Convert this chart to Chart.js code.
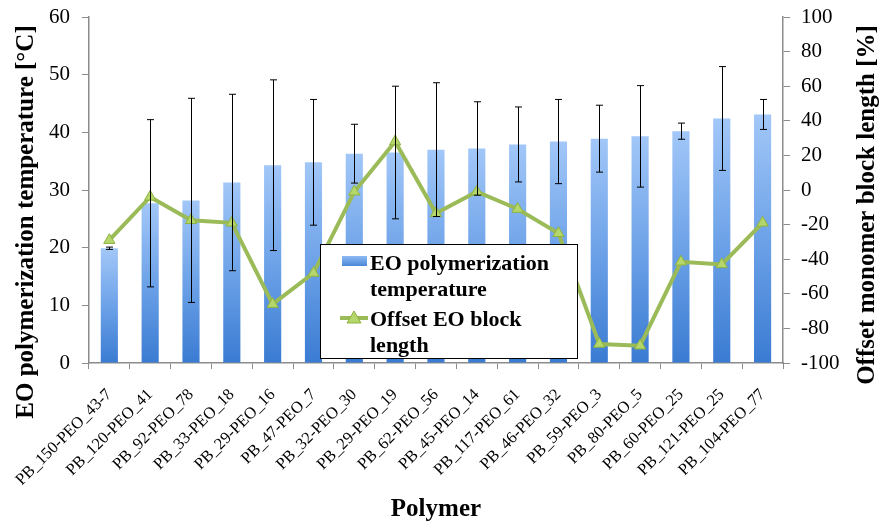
<!DOCTYPE html>
<html>
<head>
<meta charset="utf-8">
<script src="https://cdn.jsdelivr.net/npm/chart.js@4.4.0/dist/chart.umd.min.js"></script>
<style>
  html, body { margin: 0; padding: 0; background: #ffffff; }
  #wrap { width: 881px; height: 529px; position: relative; }
</style>
</head>
<body>
<div id="wrap"><canvas id="chart" width="881" height="529"></canvas></div>
<script>
// Polymers, ordered by EO polymerization temperature
const categories = [
  'PB_150-PEO_43-7', 'PB_120-PEO_41', 'PB_92-PEO_78', 'PB_33-PEO_18',
  'PB_29-PEO_16', 'PB_47-PEO_7', 'PB_32-PEO_30', 'PB_29-PEO_19',
  'PB_62-PEO_56', 'PB_45-PEO_14', 'PB_117-PEO_61', 'PB_46-PEO_32',
  'PB_59-PEO_3', 'PB_80-PEO_5', 'PB_60-PEO_25', 'PB_121-PEO_25', 'PB_104-PEO_77'
];

// EO polymerization temperature [°C] and its spread
const temperature = [19.9, 27.7, 28.2, 31.3, 34.3, 34.8, 36.3, 36.5, 37.0, 37.2, 37.9, 38.4, 38.9, 39.3, 40.2, 42.4, 43.1];
const temperatureError = [0.2, 14.5, 17.7, 15.3, 14.8, 10.9, 5.1, 11.5, 11.6, 8.1, 6.5, 7.3, 5.8, 8.8, 1.4, 9.0, 2.6];

// Offset of the EO block length [%]
const offsetLength = [-29, -4, -17.5, -19, -66, -48, -1, 28, -13.5, -1, -11, -25, -89, -90, -41.5, -43, -19];

// Axis ranges and tick steps
const tempAxis = { min: 0, max: 60, step: 10 };
const offsetAxis = { min: -100, max: 100, step: 20 };

const SERIF = '"Liberation Serif", "DejaVu Serif", serif';
const AXIS_GREY = '#8c8c8c';

function barGradient(context) {
  const chart = context.chart;
  if (!chart.chartArea) return '#6fa3e6';
  const yScale = chart.scales.y;
  const value = context.raw;
  const top = yScale.getPixelForValue(value);
  const bottom = yScale.getPixelForValue(0);
  const g = chart.ctx.createLinearGradient(0, top, 0, bottom);
  g.addColorStop(0, '#a2c7f8');
  g.addColorStop(0.5, '#6da2e8');
  g.addColorStop(1, '#3a7bd2');
  return g;
}

// Vertical scales: fixed width, no extra room for half-height end labels
function fixVertical(width) {
  return function (scale) {
    scale.width = width;
    scale.paddingTop = 0;
    scale.paddingBottom = 0;
  };
}

// Vertical error bars on the temperature bars
const errorBars = {
  id: 'errorBars',
  afterDatasetsDraw(chart) {
    const meta = chart.getDatasetMeta(chart.data.datasets.findIndex(d => d.type === 'bar'));
    const yScale = chart.scales.y;
    const ctx = chart.ctx;
    ctx.save();
    ctx.strokeStyle = '#000000';
    ctx.lineWidth = 1;
    meta.data.forEach((bar, i) => {
      const x = Math.round(bar.x) + 0.5;
      const hi = yScale.getPixelForValue(temperature[i] + temperatureError[i]);
      const lo = yScale.getPixelForValue(temperature[i] - temperatureError[i]);
      ctx.beginPath();
      ctx.moveTo(x, hi); ctx.lineTo(x, lo);
      ctx.moveTo(x - 3.5, hi); ctx.lineTo(x + 3.5, hi);
      ctx.moveTo(x - 3.5, lo); ctx.lineTo(x + 3.5, lo);
      ctx.stroke();
    });
    ctx.restore();
  }
};

// Axis titles (both vertical ones read bottom to top) and the boxed legend
const annotations = {
  id: 'annotations',
  afterDraw(chart) {
    const ctx = chart.ctx;
    const area = chart.chartArea;
    ctx.save();
    ctx.fillStyle = '#000000';
    ctx.textAlign = 'center';
    ctx.textBaseline = 'middle';

    ctx.font = 'bold 25px ' + SERIF;
    ctx.save();
    ctx.translate(27, 222);
    ctx.rotate(-Math.PI / 2);
    ctx.fillText('EO polymerization temperature [°C]', 0, 0);
    ctx.restore();

    ctx.save();
    ctx.translate(868, 205);
    ctx.rotate(-Math.PI / 2);
    ctx.fillText('Offset monomer block length [%]', 0, 0);
    ctx.restore();

    ctx.font = 'bold 25px ' + SERIF;
    ctx.fillText('Polymer', (area.left + area.right) / 2, 510);

    // legend
    const lx = 320.5, ly = 244.5, lw = 257, lh = 114;
    ctx.fillStyle = '#ffffff';
    ctx.fillRect(lx, ly, lw, lh);
    ctx.strokeStyle = '#000000';
    ctx.lineWidth = 1;
    ctx.strokeRect(lx, ly, lw, lh);

    const sg = ctx.createLinearGradient(0, 256, 0, 266);
    sg.addColorStop(0, '#8fbaf3');
    sg.addColorStop(1, '#4a88d8');
    ctx.fillStyle = sg;
    ctx.fillRect(342, 256, 25, 10);

    ctx.strokeStyle = '#9bbb59';
    ctx.lineWidth = 4;
    ctx.beginPath();
    ctx.moveTo(340, 318); ctx.lineTo(368, 318);
    ctx.stroke();
    ctx.beginPath();
    ctx.moveTo(354, 311); ctx.lineTo(361, 323); ctx.lineTo(347, 323); ctx.closePath();
    ctx.fillStyle = '#b5d66b';
    ctx.fill();
    ctx.strokeStyle = '#8db33f';
    ctx.lineWidth = 1;
    ctx.stroke();

    ctx.fillStyle = '#000000';
    ctx.textAlign = 'left';
    ctx.textBaseline = 'alphabetic';
    ctx.font = 'bold 22px ' + SERIF;
    ctx.fillText('EO polymerization', 370, 270);
    ctx.fillText('temperature', 370, 296);
    ctx.fillText('Offset EO block', 370, 326);
    ctx.fillText('length', 370, 352);
    ctx.restore();
  }
};

new Chart(document.getElementById('chart'), {
  type: 'bar',
  data: {
    labels: categories,
    datasets: [
      {
        type: 'line',
        label: 'Offset EO block length',
        data: offsetLength,
        yAxisID: 'y1',
        order: 0,
        borderColor: '#9bbb59',
        borderWidth: 4,
        tension: 0,
        pointStyle: 'triangle',
        pointRadius: 6.5,
        pointBackgroundColor: '#b5d66b',
        pointBorderColor: '#8db33f',
        pointBorderWidth: 1
      },
      {
        type: 'bar',
        label: 'EO polymerization temperature',
        data: temperature,
        yAxisID: 'y',
        order: 1,
        backgroundColor: barGradient,
        borderWidth: 0,
        categoryPercentage: 1,
        barPercentage: 0.42
      }
    ]
  },
  options: {
    responsive: false,
    animation: false,
    devicePixelRatio: 1,
    layout: { padding: { top: 17, left: 0, right: 0, bottom: 0 } },
    plugins: {
      legend: { display: false },
      tooltip: { enabled: false },
      title: { display: false }
    },
    scales: {
      x: {
        type: 'category',
        offset: true,
        grid: { display: true, drawOnChartArea: false, drawTicks: true, tickLength: 6, color: AXIS_GREY, offset: true },
        border: { color: AXIS_GREY, width: 1.5 },
        ticks: {
          color: '#000000',
          font: { family: SERIF, size: 16.5 },
          minRotation: 45,
          maxRotation: 45,
          autoSkip: false,
          padding: 16
        },
        afterFit(scale) { scale.height = 166; }
      },
      y: {
        position: 'left',
        min: tempAxis.min,
        max: tempAxis.max,
        grid: { display: true, drawOnChartArea: false, drawTicks: true, tickLength: 7, color: AXIS_GREY },
        border: { color: AXIS_GREY, width: 1.5 },
        ticks: { stepSize: tempAxis.step, color: '#000000', font: { family: SERIF, size: 21 }, padding: 12 },
        afterFit: fixVertical(88)
      },
      y1: {
        position: 'right',
        min: offsetAxis.min,
        max: offsetAxis.max,
        grid: { display: true, drawOnChartArea: false, drawTicks: true, tickLength: 7, color: AXIS_GREY },
        border: { color: AXIS_GREY, width: 1.5 },
        ticks: { stepSize: offsetAxis.step, color: '#000000', font: { family: SERIF, size: 21 }, padding: 11 },
        afterFit: fixVertical(98)
      }
    }
  },
  plugins: [errorBars, annotations]
});
</script>
</body>
</html>
